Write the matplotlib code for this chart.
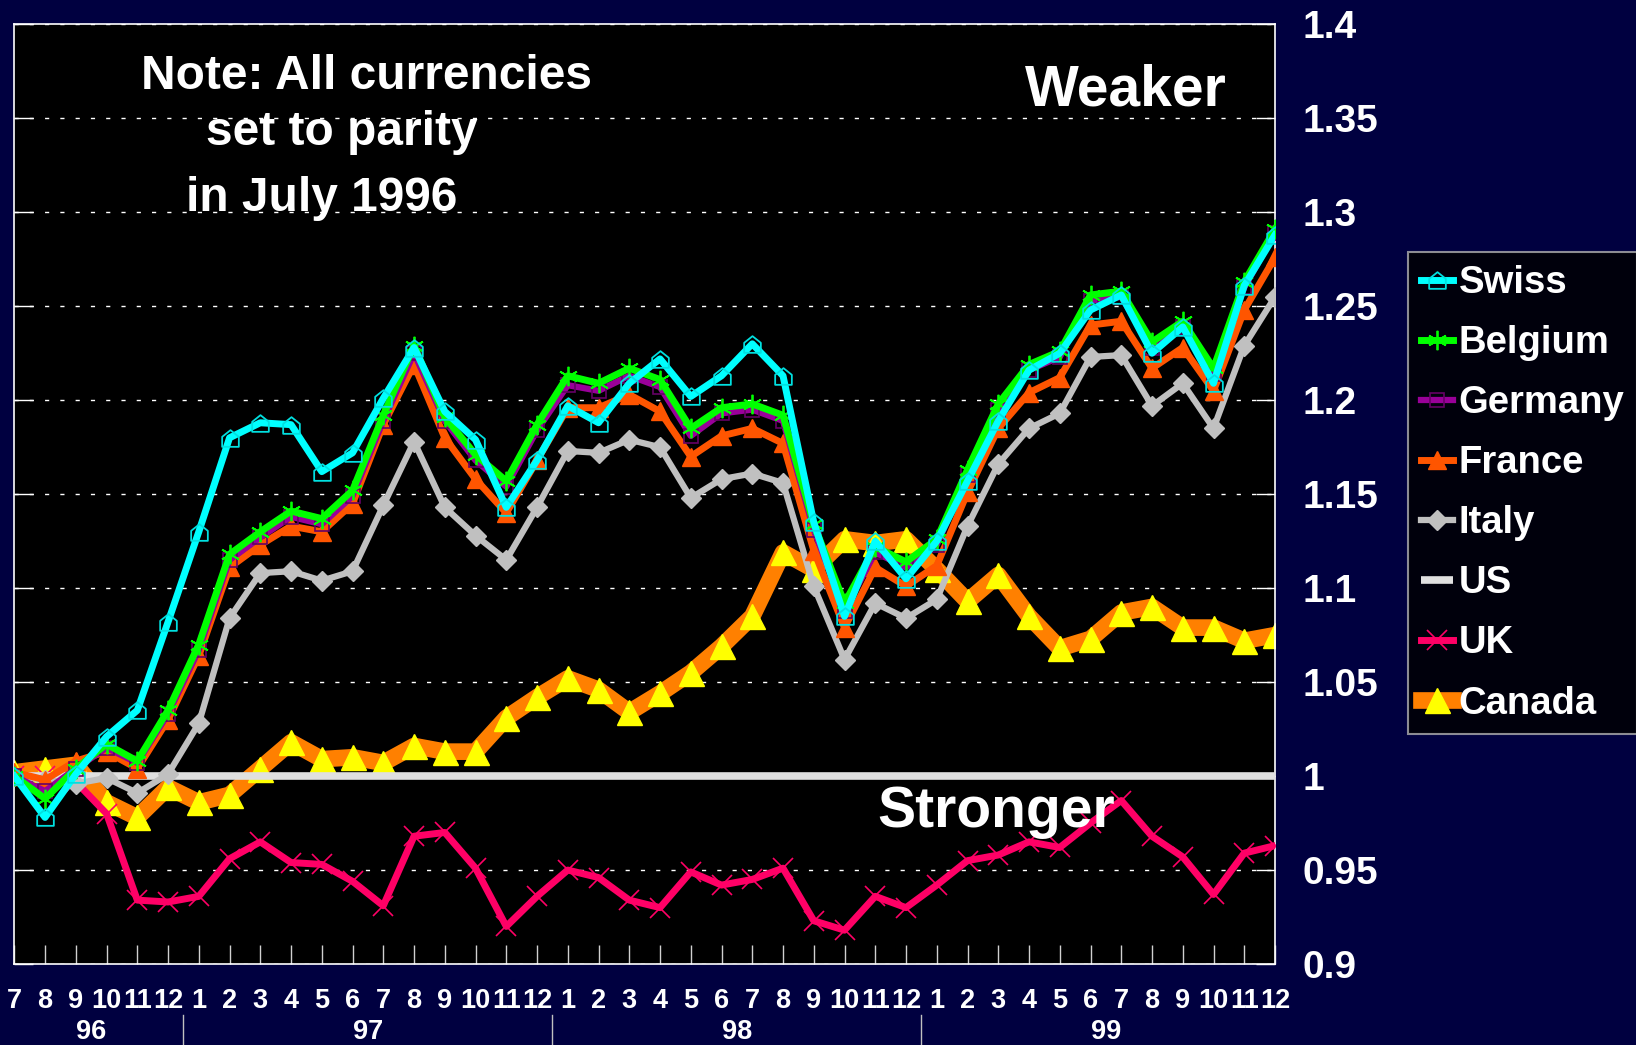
import matplotlib
matplotlib.use("Agg")
import matplotlib.pyplot as plt
from matplotlib.path import Path
from matplotlib.transforms import blended_transform_factory

plt.rcParams['font.family'] = ['Liberation Sans', 'DejaVu Sans']
plt.rcParams['font.weight'] = 'bold'

# ---------------- data ----------------
months = ['7', '8', '9', '10', '11', '12',
          '1', '2', '3', '4', '5', '6', '7', '8', '9', '10', '11', '12',
          '1', '2', '3', '4', '5', '6', '7', '8', '9', '10', '11', '12',
          '1', '2', '3', '4', '5', '6', '7', '8', '9', '10', '11', '12']
years = ['96', '97', '98', '99']
year_centers = [2.5, 11.5, 23.5, 35.5]
year_breaks = [5.5, 17.5, 29.5]

swiss = [1.000, 0.978, 1.001, 1.021, 1.035, 1.082, 1.130, 1.180, 1.188, 1.187, 1.162, 1.172,
         1.201, 1.228, 1.194, 1.179, 1.143, 1.168, 1.197, 1.188, 1.209, 1.222, 1.202, 1.213,
         1.230, 1.213, 1.135, 1.085, 1.125, 1.105, 1.125, 1.157, 1.189, 1.216, 1.225, 1.248,
         1.256, 1.225, 1.239, 1.209, 1.261, 1.288]
belgium = [1.000, 0.988, 1.004, 1.017, 1.008, 1.035, 1.070, 1.118, 1.130, 1.141, 1.137, 1.152,
           1.192, 1.229, 1.191, 1.171, 1.157, 1.187, 1.213, 1.209, 1.217, 1.211, 1.185, 1.196,
           1.198, 1.192, 1.134, 1.092, 1.122, 1.114, 1.126, 1.163, 1.198, 1.219, 1.226, 1.256,
           1.258, 1.231, 1.242, 1.217, 1.263, 1.291]
germany = [1.000, 0.992, 1.004, 1.015, 1.007, 1.033, 1.067, 1.115, 1.127, 1.138, 1.134, 1.149,
           1.189, 1.225, 1.189, 1.168, 1.154, 1.184, 1.208, 1.205, 1.213, 1.207, 1.181, 1.193,
           1.195, 1.189, 1.131, 1.088, 1.119, 1.111, 1.123, 1.160, 1.195, 1.216, 1.223, 1.253,
           1.255, 1.228, 1.239, 1.214, 1.260, 1.289]
france = [1.002, 0.998, 1.008, 1.013, 1.004, 1.030, 1.064, 1.111, 1.123, 1.133, 1.130, 1.145,
          1.187, 1.219, 1.180, 1.158, 1.140, 1.168, 1.196, 1.196, 1.203, 1.194, 1.170, 1.181,
          1.185, 1.177, 1.120, 1.079, 1.111, 1.101, 1.112, 1.151, 1.185, 1.204, 1.212, 1.240,
          1.242, 1.217, 1.228, 1.205, 1.248, 1.276]
italy = [1.000, 0.998, 0.996, 0.999, 0.991, 1.001, 1.028, 1.084, 1.108, 1.109, 1.104, 1.109,
         1.144, 1.178, 1.143, 1.128, 1.115, 1.143, 1.173, 1.172, 1.179, 1.175, 1.148, 1.158,
         1.161, 1.156, 1.101, 1.062, 1.092, 1.084, 1.094, 1.133, 1.166, 1.185, 1.193, 1.223,
         1.224, 1.197, 1.209, 1.185, 1.229, 1.255]
us = [1.000, 1.000, 1.000, 1.000, 1.000, 1.000, 1.000, 1.000, 1.000, 1.000, 1.000, 1.000,
      1.000, 1.000, 1.000, 1.000, 1.000, 1.000, 1.000, 1.000, 1.000, 1.000, 1.000, 1.000,
      1.000, 1.000, 1.000, 1.000, 1.000, 1.000, 1.000, 1.000, 1.000, 1.000, 1.000, 1.000,
      1.000, 1.000, 1.000, 1.000, 1.000, 1.000]
uk = [1.000, 1.000, 0.997, 0.980, 0.934, 0.933, 0.936, 0.956, 0.965, 0.954, 0.953, 0.944,
      0.931, 0.968, 0.970, 0.951, 0.920, 0.936, 0.950, 0.946, 0.934, 0.930, 0.949, 0.942,
      0.945, 0.951, 0.923, 0.918, 0.936, 0.930, 0.942, 0.955, 0.958, 0.965, 0.962, 0.975,
      0.987, 0.968, 0.957, 0.937, 0.959, 0.963]
canada = [1.002, 1.004, 1.006, 0.986, 0.978, 0.994, 0.986, 0.990, 1.004, 1.018, 1.009, 1.010,
          1.007, 1.016, 1.013, 1.013, 1.031, 1.042, 1.052, 1.046, 1.034, 1.044, 1.055, 1.069,
          1.085, 1.119, 1.110, 1.126, 1.124, 1.126, 1.110, 1.093, 1.107, 1.085, 1.068, 1.073,
          1.087, 1.090, 1.079, 1.079, 1.072, 1.075]

ytick_vals = [0.9, 0.95, 1.0, 1.05, 1.1, 1.15, 1.2, 1.25, 1.3, 1.35, 1.4]
ytick_labels = ['0.9', '0.95', '1', '1.05', '1.1', '1.15', '1.2', '1.25', '1.3', '1.35', '1.4']

# ---------------- figure ----------------
BG = '#000040'
fig = plt.figure(figsize=(16.36, 10.45), dpi=100, facecolor=BG)
ax = fig.add_axes([0.00874, 0.0775, 0.7706, 0.8992])
ax.set_facecolor('black')
x = list(range(len(months)))

house = Path([(-1, -1), (1, -1), (1, 0.2), (0, 1), (-1, 0.2), (-1, -1)],
             [Path.MOVETO, Path.LINETO, Path.LINETO, Path.LINETO, Path.LINETO, Path.CLOSEPOLY])

h_canada, = ax.plot(x, canada, color='#FF8000', lw=12, marker='^', ms=18,
                    mfc='#FFFF00', mec='#FFFF00', zorder=2, label='Canada')
h_uk, = ax.plot(x, uk, color='#FF0066', lw=5, marker='x', ms=14, mew=1.2,
                mec='#FF0066', zorder=3, label='UK')
h_us, = ax.plot(x, us, color='#E0E0E0', lw=5.5, zorder=4, label='US', solid_capstyle='butt')
h_italy, = ax.plot(x, italy, color='#C0C0C0', lw=4.5, marker='D', ms=10,
                   mfc='#C0C0C0', mec='#C0C0C0', zorder=5, label='Italy')
h_france, = ax.plot(x, france, color='#FF5500', lw=5, marker='^', ms=13,
                    mfc='#FF5500', mec='#FF5500', zorder=6, label='France')
h_germany, = ax.plot(x, germany, color='#990099', lw=4.5, marker='s', ms=10,
                     mfc='none', mec='#660066', mew=1.2, zorder=7, label='Germany')
h_belgium, = ax.plot(x, belgium, color='#00FF00', lw=5, marker=(6, 2, 0), ms=14,
                     mec='#00FF00', mew=1.3, zorder=8, label='Belgium')
h_swiss, = ax.plot(x, swiss, color='#00FFFF', lw=5, marker=house, ms=12,
                   mfc='none', mec='#00E0E0', mew=1.3, zorder=9, label='Swiss')

ax.set_xlim(0, len(months) - 1)
ax.set_ylim(0.9, 1.4)

# grid & spines
ax.set_yticks(ytick_vals)
ax.set_yticklabels(ytick_labels)
ax.grid(axis='y', color='white', lw=1, linestyle=(0, (3, 8)), zorder=1)
ax.set_axisbelow(True)
for s in ax.spines.values():
    s.set_color('white')
    s.set_linewidth(1.2)

ax.tick_params(axis='y', which='both', direction='in', length=14, width=1, color='white',
               left=True, right=True, labelleft=False, labelright=True,
               labelcolor='white', labelsize=28, pad=20)
for t in ax.get_yticklabels():
    t.set_fontweight('bold')

ax.set_xticks(x)
ax.set_xticklabels(months)
ax.tick_params(axis='x', direction='in', length=14, width=1, color='#D0D0D0',
               labelcolor='white', labelsize=19.5, pad=17)
for t in ax.get_xticklabels():
    t.set_fontweight('bold')

trans = blended_transform_factory(ax.transData, ax.transAxes)
for xb in year_breaks:
    ax.plot([xb, xb], [-0.0545, -0.09], transform=trans, color='#C0C0C0', lw=1,
            clip_on=False)
for xc, yl in zip(year_centers, years):
    ax.text(xc, -0.0725, yl, transform=trans, ha='center', va='center', color='white',
            fontsize=19.5, fontweight='bold')

# annotations
ax.text(11.44, 1.3654, 'Note: All currencies', ha='center', va='baseline', color='white',
        fontsize=34.5, fontweight='bold', zorder=10)
ax.text(10.66, 1.336, 'set to parity', ha='center', va='baseline', color='white',
        fontsize=34.5, fontweight='bold', zorder=10)
ax.text(10.0, 1.3008, 'in July 1996', ha='center', va='baseline', color='white',
        fontsize=34.5, fontweight='bold', zorder=10)
ax.text(36.15, 1.3568, 'Weaker', ha='center', va='baseline', color='white',
        fontsize=41, fontweight='bold', zorder=10)
ax.text(31.92, 0.9731, 'Stronger', ha='center', va='baseline', color='white',
        fontsize=41, fontweight='bold', zorder=10)

handles = [h_swiss, h_belgium, h_germany, h_france, h_italy, h_us, h_uk, h_canada]
leg = fig.legend(handles, [h.get_label() for h in handles], loc='upper left',
                 bbox_to_anchor=(0.8606, 0.7584), bbox_transform=fig.transFigure,
                 frameon=True, fancybox=False, facecolor='black', edgecolor='#B0B0B0',
                 prop={'size': 27.5, 'weight': 'bold'}, labelcolor='white',
                 handlelength=0.85, handletextpad=0.15, borderpad=0.33, labelspacing=0.63,
                 borderaxespad=0)
leg.get_frame().set_linewidth(1.5)

fig.savefig('out.png', dpi=100, facecolor=BG)
